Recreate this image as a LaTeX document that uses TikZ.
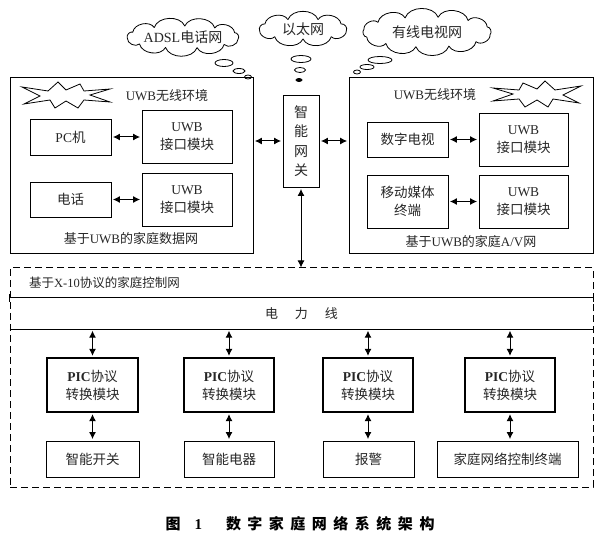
\documentclass[tikz,border=0pt]{standalone}
\usepackage{fontspec}
\setmainfont{Liberation Serif}
\newfontfamily\cjk{Noto Sans CJK SC}
\usetikzlibrary{arrows.meta,shapes.symbols}
\newcommand{\zh}[1]{{\cjk #1}}
\newcommand{\capgap}{\hspace{6.5pt}}
% cx, cy, a, b, puffs
\newcommand{\drawcloud}[5]{%
  \draw[line width=0.8pt, line join=round] ({#1+#3*cos(10)},{#2+#4*sin(10)})
    \foreach \k in {1,...,#5}{ to[bend left=70] ({#1+#3*cos(10+\k*360/#5)},{#2+#4*sin(10+\k*360/#5)}) };}
\begin{document}
\begin{tikzpicture}[x=1pt,y=-1pt,
  txt/.style={font=\fontsize{13}{16}\selectfont, text=black!85, inner sep=0pt},
  bx/.style={draw, line width=0.9pt, align=center, inner sep=0pt, text=black!85, font=\fontsize{13.5}{18}\selectfont},
  bigbx/.style={draw, line width=0.8pt, inner sep=0pt},
  picbx/.style={bx, line width=1.3pt},
  dar/.style={{Latex[length=7pt,width=7pt]}-{Latex[length=7pt,width=7pt]}, line width=1pt, shorten <=1.5pt, shorten >=1.5pt},
  cltxt/.style={inner sep=0pt, text=black!85, font=\fontsize{14}{16}\selectfont},
  bub/.style={draw, line width=0.8pt},
  burst/.style={draw, line width=0.8pt}
]
\useasboundingbox (0,0) rectangle (600,540);

% clouds
\drawcloud{183}{37}{56}{11}{11}
\node[cltxt] (adsl) at (183,37) {ADSL\zh{电话网}};
\drawcloud{303}{29}{44}{10}{9}
\node[cltxt] (eth) at (303,29) {\zh{以太网}};
\drawcloud{427}{32}{64}{15}{12}
\node[cltxt] (catv) at (427,32) {\zh{有线电视网}};
% thought bubbles
\draw[bub] (224,63) ellipse [x radius=9, y radius=3.5];
\draw[bub] (239,71) ellipse [x radius=6, y radius=2.5];
\draw[bub] (248,77) ellipse [x radius=3.5, y radius=2];
\draw[bub] (301,59) ellipse [x radius=10, y radius=3.5];
\draw[bub] (300,70) ellipse [x radius=5.5, y radius=2.5];
\draw[bub, fill=black] (299,80) ellipse [x radius=3, y radius=1.5];
\draw[bub] (380,60) ellipse [x radius=12, y radius=3.5];
\draw[bub] (367,67) ellipse [x radius=7, y radius=2.5];
\draw[bub] (357,72) ellipse [x radius=3.5, y radius=2];

% big UWB boxes
\node[bigbx, minimum width=243pt, minimum height=176pt] (lnet) at (131.5,165) {};
\node[bigbx, minimum width=244pt, minimum height=176pt] (rnet) at (471,165) {};

% bursts
\draw[burst, shift={(66,95)}] (-44,-8) -- (-18,-4) -- (-8,-13) -- (0,-5) -- (14,-11) -- (18,-4) -- (44,-6) -- (24,0) -- (44,7) -- (18,5) -- (12,13) -- (0,6) -- (-11,13) -- (-16,5) -- (-42,9) -- (-26,1) -- cycle;
\draw[burst, shift={(537,94)}, xscale=-1] (-44,-8) -- (-18,-4) -- (-8,-13) -- (0,-5) -- (14,-11) -- (18,-4) -- (44,-6) -- (24,0) -- (44,7) -- (18,5) -- (12,13) -- (0,6) -- (-11,13) -- (-16,5) -- (-42,9) -- (-26,1) -- cycle;

\node[txt] (lenv) at (167,96) {UWB\zh{无线环境}};
\node[txt] (renv) at (435,95) {UWB\zh{无线环境}};
\node[txt] (ltitle) at (131,239) {\zh{基于}UWB\zh{的家庭数据网}};
\node[txt] (rtitle) at (471,242) {\zh{基于}UWB\zh{的家庭}A/V\zh{网}};

% left inner boxes
\node[bx, minimum width=81pt, minimum height=36pt] (pc) at (70.5,137) {PC\zh{机}};
\node[bx, minimum width=90pt, minimum height=53pt] (u1) at (187,136.5) {UWB\\\zh{接口模块}};
\node[bx, minimum width=81pt, minimum height=35pt] (tel) at (70.5,199.5) {\zh{电话}};
\node[bx, minimum width=90pt, minimum height=53pt] (u2) at (187,199.5) {UWB\\\zh{接口模块}};
% right inner boxes
\node[bx, minimum width=81pt, minimum height=35pt] (tv) at (407.5,139.5) {\zh{数字电视}};
\node[bx, minimum width=89pt, minimum height=53pt] (u3) at (523.5,139.5) {UWB\\\zh{接口模块}};
\node[bx, minimum width=81pt, minimum height=53pt] (mob) at (407.5,201.5) {\zh{移动媒体}\\\zh{终端}};
\node[bx, minimum width=89pt, minimum height=53pt] (u4) at (523.5,201.5) {UWB\\\zh{接口模块}};

\draw[dar] (pc.east) -- (pc.east -| u1.west);
\draw[dar] (tel.east) -- (tel.east -| u2.west);
\draw[dar] (tv.east) -- (tv.east -| u3.west);
\draw[dar] (mob.east) -- (mob.east -| u4.west);

% gateway
\node[bx, minimum width=36pt, minimum height=92pt, font=\fontsize{14}{19.5}\selectfont] (gw) at (301,141) {\zh{智}\\\zh{能}\\\zh{网}\\\zh{关}};
\draw[dar] (gw.west -| lnet.east) -- (gw.west);
\draw[dar] (gw.east) -- (gw.east -| rnet.west);

% control network
\node[draw, dashed, dash pattern=on 7pt off 4pt, line width=1pt, minimum width=583pt, minimum height=219pt, inner sep=0pt] (ctl) at (301.5,377.5) {};
\draw[dar, shorten >=0pt] (gw.south) -- (gw.south |- ctl.north);
\node[txt, anchor=west, font=\fontsize{12.5}{15}\selectfont] (ctltitle) at (29,283) {\zh{基于}X-10\zh{协议的家庭控制网}};
\node[inner sep=0pt, minimum width=583pt, minimum height=31pt, txt] (pwr) at (301.5,313.5) {\zh{电}\hspace{17pt}\zh{力}\hspace{17pt}\zh{线}};
\draw[line width=1pt] (pwr.north west) -- (pwr.north east);
\draw[line width=1pt] (pwr.south west) -- (pwr.south east);
\draw[line width=1pt] (pwr.north west) ++(0,-4) -- ++(0,8);
\draw[line width=1pt] (pwr.north east) ++(0,-4) -- ++(0,8);

% PIC modules
\node[picbx, minimum width=91pt, minimum height=54pt] (p1) at (92.5,385) {\textbf{PIC}\zh{协议}\\\zh{转换模块}};
\node[picbx, minimum width=90pt, minimum height=54pt] (p2) at (229,385) {\textbf{PIC}\zh{协议}\\\zh{转换模块}};
\node[picbx, minimum width=90pt, minimum height=54pt] (p3) at (368,385) {\textbf{PIC}\zh{协议}\\\zh{转换模块}};
\node[picbx, minimum width=90pt, minimum height=54pt] (p4) at (510,385) {\textbf{PIC}\zh{协议}\\\zh{转换模块}};
% devices
\node[bx, minimum width=93pt, minimum height=36pt] (d1) at (92.5,459) {\zh{智能开关}};
\node[bx, minimum width=90pt, minimum height=36pt] (d2) at (229,459) {\zh{智能电器}};
\node[bx, minimum width=91pt, minimum height=36pt] (d3) at (368.5,459) {\zh{报警}};
\node[bx, minimum width=141pt, minimum height=36pt] (d4) at (507.5,459) {\zh{家庭网络控制终端}};

\foreach \p/\d in {p1/d1,p2/d2,p3/d3,p4/d4}{
  \draw[dar] (\p.north |- pwr.south) -- (\p.north);
  \draw[dar] (\p.south) -- (\p.south |- \d.north);
}

% caption
\node[inner sep=0pt, font=\fontsize{15}{18}\selectfont\bfseries] (cap) at (300,524) {\zh{图}\hspace{14pt}1\hspace{24pt}\zh{数\capgap 字\capgap 家\capgap 庭\capgap 网\capgap 络\capgap 系\capgap 统\capgap 架\capgap 构}};
\end{tikzpicture}
\end{document}
